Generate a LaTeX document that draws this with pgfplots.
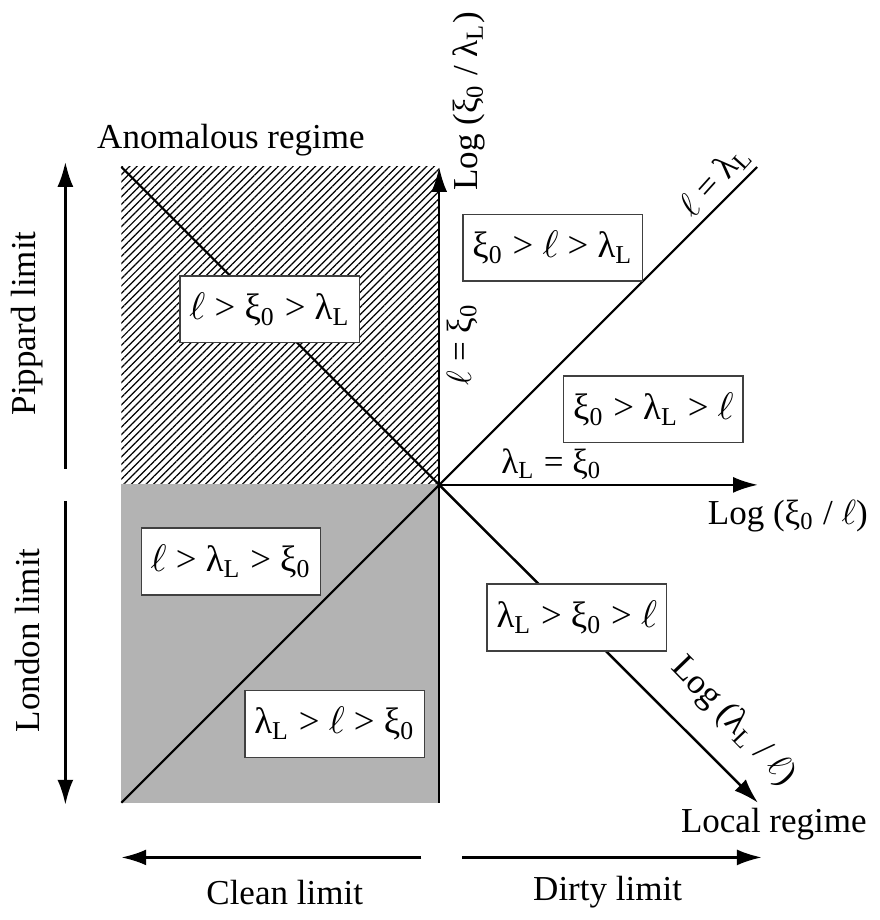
\documentclass[border=0pt]{standalone}
\usepackage{pgfplots}
\pgfplotsset{compat=1.18}
\usepackage{fontspec}
\setmainfont{Liberation Serif}
\usetikzlibrary{arrows.meta,patterns.meta}
\definecolor{regiongray}{RGB}{179,179,179}
\newcommand{\xz}{ξ\textsubscript{0}}
\newcommand{\lL}{λ\textsubscript{L}}
\newcommand{\el}{$\ell$}
\begin{document}
\begin{tikzpicture}[
  box/.style={draw=black!75, line width=0.4pt, fill=white,
    minimum width=1.8cm, minimum height=0.67cm, inner sep=2pt,
    font=\fontsize{10.5}{12}\selectfont},
  ln/.style={black, line width=0.6pt},
  arr/.style={black, line width=0.7pt, -{Latex[length=2.5mm,width=1.6mm]}},
]
\begin{axis}[
  width=8.74cm, height=9.2cm, scale only axis,
  hide axis, clip=false,
  xmin=-1.37, xmax=1.37, ymin=-1.367, ymax=1.517,
  every node/.style={font=\fontsize{9.3}{11}\selectfont},
]
% regions
\addplot[draw=none, pattern={Lines[angle=45,distance=1.5pt,line width=0.35pt]}]
  coordinates {(-1,0) (-1,1) (0,1) (0,0)} -- cycle;
\addplot[fill=regiongray, draw=regiongray]
  coordinates {(-1,-1) (0,-1) (0,0) (-1,0)} -- cycle;
% lines
\addplot[ln] coordinates {(-1,1) (0,0)};
\addplot[ln] coordinates {(-1,-1) (1,1)};
\addplot[arr] coordinates {(0,0) (1.003,-1.0)};
\addplot[arr] coordinates {(0,-1) (0,1.0)};
\addplot[arr] coordinates {(0,0) (1.003,0)};
% side arrows
\addplot[arr] coordinates {(-1.176,0.05) (-1.176,1.016)};
\addplot[arr] coordinates {(-1.176,-0.05) (-1.176,-1.006)};
\addplot[arr] coordinates {(-0.056,-1.172) (-1.0,-1.172)};
\addplot[arr] coordinates {(0.072,-1.172) (1.015,-1.172)};
% region boxes
\node[box] at (axis cs:0.357,0.746) {\xz{} > \el{} > \lL};
\node[box] at (axis cs:-0.533,0.552) {\el{} > \xz{} > \lL};
\node[box] at (axis cs:0.674,0.238) {\xz{} > \lL{} > \el};
\node[box] at (axis cs:0.433,-0.417) {\lL{} > \xz{} > \el};
\node[box] at (axis cs:-0.655,-0.241) {\el{} > \lL{} > \xz};
\node[box] at (axis cs:-0.329,-0.752) {\lL{} > \el{} > \xz};
% labels
\node at (axis cs:-0.655,1.085) {Anomalous regime};
\node[rotate=90] at (axis cs:0.094,1.207) {Log (\xz{} / \lL)};
\node[rotate=48] at (axis cs:0.868,0.956) {\el{} = \lL};
\node[rotate=90] at (axis cs:0.072,0.442) {\el{} = \xz};
\node at (axis cs:0.354,0.066) {\lL{} = \xz};
\node at (axis cs:1.097,-0.097) {Log (\xz{} / \el)};
\node[rotate=-46] at (axis cs:0.925,-0.745) {Log (\lL{} / \el)};
\node at (axis cs:1.053,-1.066) {Local regime};
\node[rotate=90] at (axis cs:-1.295,0.508) {Pippard limit};
\node[rotate=90] at (axis cs:-1.295,-0.489) {London limit};
\node at (axis cs:-0.486,-1.282) {Clean limit};
\node at (axis cs:0.53,-1.282) {Dirty limit};
\end{axis}
\end{tikzpicture}
\end{document}
